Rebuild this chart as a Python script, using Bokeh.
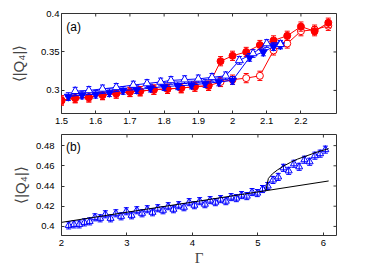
import math
from bokeh.plotting import figure
from bokeh.layouts import column
from bokeh.models import FixedTicker, Range1d, Label
from bokeh.embed import file_html
from bokeh.resources import INLINE

# ---------------- panel (a) data ----------------
red_x = [1.50, 1.54, 1.58, 1.62, 1.66, 1.70, 1.73, 1.77, 1.81, 1.85, 1.89, 1.93,
         1.965, 2.00, 2.04, 2.08, 2.12, 2.16, 2.20, 2.24, 2.28]
red_filled_y = [0.287, 0.290, 0.291, 0.294, 0.296, 0.298, 0.299, 0.301, 0.302, 0.303, 0.305, 0.306,
                0.338, 0.345, 0.350, 0.359, 0.365, 0.371, 0.383, 0.377, 0.388]
red_open_y = [0.287, 0.290, 0.291, 0.294, 0.296, 0.298, 0.299, 0.301, 0.302, 0.303, 0.305, 0.306,
              0.311, 0.314, 0.316, 0.319, 0.352, 0.361, 0.377, 0.379, 0.384]
red_err = 0.006

blue_dn_x = [1.52, 1.56, 1.60, 1.64, 1.68, 1.72, 1.76, 1.80, 1.84, 1.88, 1.92, 1.96,
             2.00, 2.05, 2.09, 2.12, 2.14]
blue_dn_y = [0.292, 0.294, 0.295, 0.297, 0.300, 0.301, 0.303, 0.305, 0.306, 0.307, 0.309, 0.311,
             0.313, 0.343, 0.350, 0.357, 0.359]
blue_up_x = [1.54, 1.58, 1.62, 1.66, 1.71, 1.75, 1.79, 1.82, 1.86, 1.90, 1.94, 1.98,
             2.02, 2.06, 2.10, 2.14]
blue_up_y = [0.299, 0.300, 0.302, 0.304, 0.307, 0.309, 0.311, 0.313, 0.314, 0.315, 0.317, 0.319,
             0.339, 0.348, 0.361, 0.360]
blue_err = 0.005

a_xticks = [1.5, 1.6, 1.7, 1.8, 1.9, 2.0, 2.1, 2.2]
a_xlabels = ["1.5", "1.6", "1.7", "1.8", "1.9", "2", "2.1", "2.2"]
a_yticks = [0.3, 0.35, 0.4]
a_ylabels = ["0.3", "0.35", "0.4"]

# ---------------- panel (b) data ----------------
b_x = [2.11, 2.19, 2.27, 2.35, 2.43, 2.51, 2.59, 2.67, 2.75, 2.83, 2.91, 2.99, 3.07, 3.15,
       3.23, 3.31, 3.39, 3.47, 3.55, 3.63, 3.71, 3.79, 3.87, 3.95, 4.03, 4.11, 4.19, 4.27,
       4.35, 4.43, 4.51, 4.59, 4.67, 4.75, 4.83, 4.91, 4.99, 5.07, 5.15, 5.23, 5.31, 5.39,
       5.47, 5.55, 5.63, 5.71, 5.79, 5.87, 5.95, 6.03]
b_y = [0.401, 0.402, 0.402, 0.404, 0.405, 0.409, 0.408, 0.412, 0.408, 0.413, 0.410, 0.415,
       0.411, 0.416, 0.413, 0.417, 0.414, 0.418, 0.416, 0.420, 0.417, 0.421, 0.419, 0.424,
       0.421, 0.425, 0.422, 0.426, 0.424, 0.427, 0.425, 0.429, 0.428, 0.431, 0.430, 0.434,
       0.433, 0.437, 0.440, 0.446, 0.449, 0.458, 0.455, 0.462, 0.459, 0.466, 0.464, 0.470,
       0.472, 0.476]
b_err = 0.0035

fit_line_x = [2.0, 6.08]
fit_line_y = [0.404, 0.445]
fit_curve_x = [5.12, 5.16, 5.22, 5.30, 5.40, 5.50, 5.60, 5.75, 5.90, 6.08]
fit_curve_y = [0.4355, 0.4475, 0.4520, 0.4560, 0.4600, 0.4635, 0.4665, 0.4700, 0.4735, 0.4770]

b_xticks = [2, 3, 4, 5, 6]
b_xlabels = ["2", "3", "4", "5", "6"]
b_yticks = [0.4, 0.42, 0.44, 0.46, 0.48]
b_ylabels = ["0.4", "0.42", "0.44", "0.46", "0.48"]

RED = "#ff0000"
BLUE = "#0000ff"
FRAME = "#333333"
FONT = "Liberation Sans"
YLABEL = "\u27e8|Q\u2084|\u27e9"


def style(p, xticks, xlabels, yticks, ylabels, ylab_standoff, ytick_standoff):
    p.outline_line_color = FRAME
    p.outline_line_width = 1
    p.xgrid.visible = False
    p.ygrid.visible = False
    xa = p.below[0]
    ya = p.left[0]
    for ax, ticks, labels in ((xa, xticks, xlabels), (ya, yticks, ylabels)):
        ax.ticker = FixedTicker(ticks=ticks)
        ax.major_label_overrides = {t: l for t, l in zip(ticks, labels)}
        ax.axis_line_color = None
        ax.major_tick_in = 3
        ax.major_tick_out = 0
        ax.major_tick_line_color = FRAME
        ax.minor_tick_line_color = None
        ax.major_label_text_font = FONT
        ax.major_label_text_font_size = "9.5px"
        ax.major_label_text_color = "black"
    xa.major_label_standoff = 4
    ya.major_label_standoff = ytick_standoff
    ya.axis_label = YLABEL
    ya.axis_label_text_font = FONT
    ya.axis_label_text_font_size = "15px"
    ya.axis_label_text_font_style = "normal"
    ya.axis_label_standoff = ylab_standoff
    # mirrored inward ticks on top and right edges (half of each dash is clipped)
    xr, yr = p.x_range, p.y_range
    p.scatter(x=xticks, y=[yr.end] * len(xticks), marker="dash", angle=math.pi / 2,
              size=6, line_color=FRAME, line_width=1)
    p.scatter(x=[xr.end] * len(yticks), y=yticks, marker="dash",
              size=6, line_color=FRAME, line_width=1)
    return xa, ya


def errbars(p, x, y, e, color, cap=5):
    lo = [v - e for v in y]
    hi = [v + e for v in y]
    p.segment(x0=x, y0=lo, x1=x, y1=hi, line_color=color, line_width=1)
    p.scatter(x=x + x, y=lo + hi, marker="dash", size=cap, line_color=color, line_width=1)


# ---------------- figure (a) ----------------
pa = figure(width=356, height=130, output_backend="svg", toolbar_location=None,
            x_range=Range1d(1.5, 2.304), y_range=Range1d(0.27, 0.4),
            min_border_left=61, min_border_right=20, min_border_top=13, min_border_bottom=17)
style(pa, a_xticks, a_xlabels, a_yticks, a_ylabels, 11, 2)

errbars(pa, red_x, red_open_y, red_err, RED)
pa.line(red_x, red_open_y, line_color=RED, line_width=1)
pa.scatter(red_x, red_open_y, marker="circle", size=7, line_color=RED, fill_color="white", line_width=1)
errbars(pa, red_x, red_filled_y, red_err, RED)
pa.line(red_x, red_filled_y, line_color=RED, line_width=1)
pa.scatter(red_x, red_filled_y, marker="circle", size=7, line_color=RED, fill_color=RED, line_width=1)
errbars(pa, blue_dn_x, blue_dn_y, blue_err, BLUE)
pa.line(blue_dn_x, blue_dn_y, line_color=BLUE, line_width=1)
pa.scatter(blue_dn_x, blue_dn_y, marker="inverted_triangle", size=8, line_color=BLUE, fill_color=BLUE)
errbars(pa, blue_up_x, blue_up_y, blue_err, BLUE)
pa.line(blue_up_x, blue_up_y, line_color=BLUE, line_width=1)
pa.scatter(blue_up_x, blue_up_y, marker="triangle", size=8, line_color=BLUE, fill_color="white", line_width=1)

pa.add_layout(Label(x=1.514, y=0.3915, text="(a)", text_font=FONT, text_font_size="12px",
                    text_baseline="top", text_color="black"))

# ---------------- figure (b) ----------------
pb = figure(width=356, height=140, output_backend="svg", toolbar_location=None,
            x_range=Range1d(2.0, 6.2), y_range=Range1d(0.391, 0.491),
            min_border_left=61, min_border_right=20, min_border_top=4, min_border_bottom=35)
xb, yb = style(pb, b_xticks, b_xlabels, b_yticks, b_ylabels, 4, 7)
xb.axis_label = "\u0393"
xb.axis_label_text_font = "Liberation Serif"
xb.axis_label_text_font_size = "15px"
xb.axis_label_text_font_style = "normal"
xb.axis_label_standoff = 1

errbars(pb, b_x, b_y, b_err, BLUE)
pb.scatter(b_x, b_y, marker="triangle", size=7, line_color=BLUE, fill_color=None, line_width=1)
pb.line(fit_line_x, fit_line_y, line_color="black", line_width=1)
pb.line(fit_curve_x, fit_curve_y, line_color="black", line_width=1)

pb.add_layout(Label(x=2.07, y=0.4855, text="(b)", text_font=FONT, text_font_size="12px",
                    text_baseline="top", text_color="black"))

layout = column(pa, pb)
open("out.html", "w").write(file_html(layout, INLINE))
